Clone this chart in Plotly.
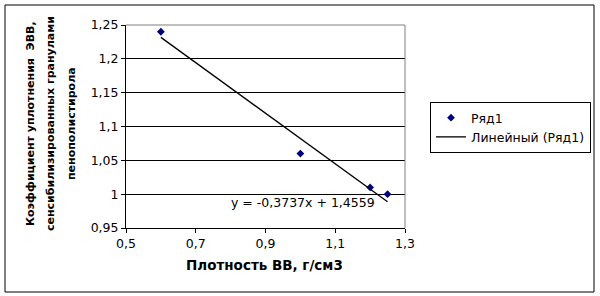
import plotly.graph_objects as go

density = [0.6, 1.0, 1.2, 1.25]
coef = [1.24, 1.06, 1.01, 1.0]
slope = -0.3737
intercept = 1.4559
trend_x = [min(density), max(density)]
trend_y = [slope * x + intercept for x in trend_x]

x_ticks = [0.5, 0.7, 0.9, 1.1, 1.3]
y_ticks = [0.95, 1.0, 1.05, 1.1, 1.15, 1.2, 1.25]

y_title_lines = ["Коэффициент уплотнения  ЭВВ,",
                 "сенсибилизированных гранулами",
                 "пенополистирола"]
x_title = "Плотность ВВ, г/см3"
eq_text = "y = -0,3737x + 1,4559"

FONT = "DejaVu Sans"

fig = go.Figure()
fig.add_trace(go.Scatter(x=density, y=coef, mode="markers", name="Ряд1",
                         marker=dict(symbol="diamond", size=6, color="#000080")))
fig.add_trace(go.Scatter(x=trend_x, y=trend_y, mode="lines", name="Линейный (Ряд1)",
                         line=dict(color="black", width=1.3)))

W, H = 600, 296
L, R, T, B = 126, 405, 25, 228
pw, ph = R - L, B - T

def px(xp):
    return (xp - L) / pw

def py(yp):
    return (B - yp) / ph

fig.update_layout(
    width=W, height=H,
    margin=dict(l=L, r=W - R, t=T, b=H - B, autoexpand=False),
    paper_bgcolor="white", plot_bgcolor="white",
    separators=", ",
    font=dict(family=FONT, size=12, color="black"),
    showlegend=True,
    legend=dict(x=px(430), y=py(102), xanchor="left", yanchor="top",
                bordercolor="black", borderwidth=1, bgcolor="white",
                font=dict(family=FONT, size=12.5, color="black"),
                tracegroupgap=0, itemwidth=30),
    xaxis=dict(range=[0.5, 1.3], tickvals=x_ticks, ticks="outside", ticklen=4,
               tickcolor="black", showline=True, linecolor="black", linewidth=1,
               showgrid=False, zeroline=False, tickfont=dict(size=12.5)),
    yaxis=dict(range=[0.95, 1.25], tickvals=y_ticks, ticks="outside", ticklen=4,
               tickcolor="black", showline=True, linecolor="black", linewidth=1,
               showgrid=True, gridcolor="black", gridwidth=1, zeroline=False,
               tickfont=dict(size=12.5)),
)

# plot-area border (gray top & right)
fig.add_shape(type="line", xref="paper", yref="paper", x0=0, x1=1, y0=1, y1=1,
              line=dict(color="#808080", width=1), layer="above")
fig.add_shape(type="line", xref="paper", yref="paper", x0=1, x1=1, y0=0, y1=1,
              line=dict(color="#808080", width=1), layer="above")
# outer chart border
fig.add_shape(type="rect", xref="paper", yref="paper",
              x0=px(5), x1=px(594), y0=py(292), y1=py(5),
              line=dict(color="black", width=1), layer="below")

annotations = []
for i, (line_txt, xc) in enumerate(zip(y_title_lines, [31, 51, 72])):
    annotations.append(dict(text="<b>%s</b>" % line_txt, xref="paper", yref="paper",
                            x=px(xc), y=py(124), textangle=-90, showarrow=False,
                            xanchor="center", yanchor="middle",
                            font=dict(family=FONT, size=11, color="black")))
annotations.append(dict(text="<b>%s</b>" % x_title, xref="paper", yref="paper",
                        x=px(264), y=py(265), showarrow=False, xanchor="center",
                        yanchor="middle", font=dict(family=FONT, size=13.5, color="black")))
annotations.append(dict(text=eq_text, xref="paper", yref="paper",
                        x=px(303), y=py(202), showarrow=False, xanchor="center",
                        yanchor="middle", font=dict(family=FONT, size=12.5, color="black")))
fig.update_layout(annotations=annotations)

fig.write_html("out.html")
